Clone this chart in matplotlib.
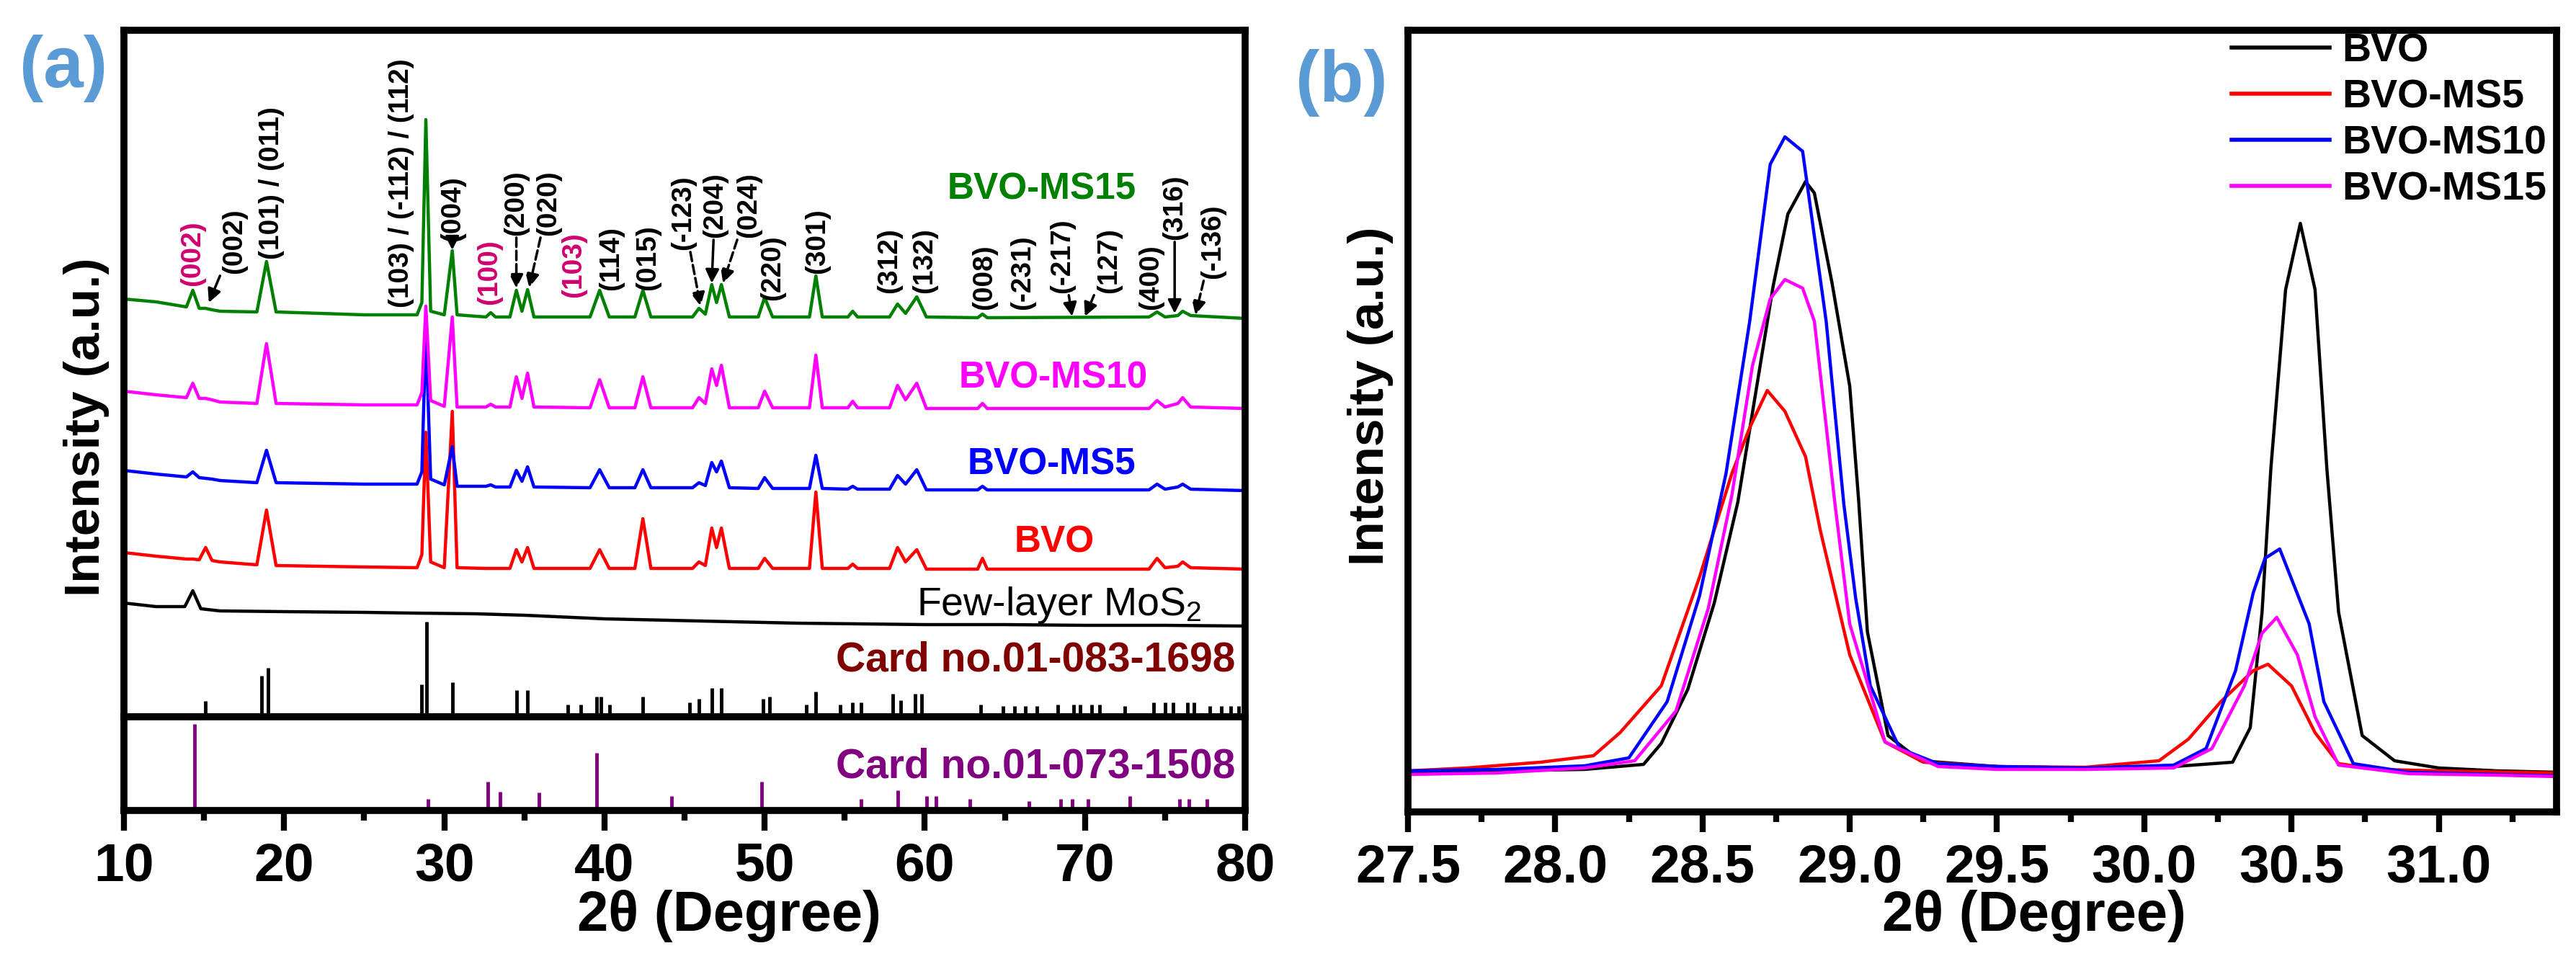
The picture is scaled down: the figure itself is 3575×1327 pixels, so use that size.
import numpy as np
import matplotlib.pyplot as plt
from matplotlib.ticker import MultipleLocator, FormatStrFormatter

plt.rcParams['font.family'] = ['Liberation Sans', 'DejaVu Sans']
plt.rcParams['mathtext.default'] = 'regular'

# ---------------- panel (a) data : stacked XRD patterns ----------------
tt_a = [10, 12, 13.9, 14.3, 14.7, 15.1, 15.5, 16, 18.3, 18.9,
        19.5, 25, 28.3, 28.6, 28.85, 29.15, 30.0, 30.5, 30.8, 32.6,
        32.9, 33.2, 34.1, 34.5, 34.85, 35.2, 35.6, 39.1, 39.7, 40.3,
        41.9, 42.4, 42.9, 45.5, 45.9, 46.3, 46.7, 47.0, 47.3, 47.8,
        49.6, 50.0, 50.5, 52.8, 53.2, 53.6, 55.2, 55.5, 55.8, 57.8,
        58.3, 58.8, 59.5, 60.1, 63.3, 63.6, 63.9, 74.0, 74.5, 75.0,
        75.8, 76.1, 76.6, 80]

i_ms15 = [580, 576, 569, 592, 567, 567, 565, 563, 562, 632,
          562, 558, 558, 575, 829, 563, 558, 647, 558, 555,
          561, 555, 555, 592, 563, 593, 555, 555, 592, 555,
          555, 592, 555, 555, 567, 559, 600, 575, 600, 555,
          555, 582, 555, 555, 612, 555, 555, 563, 555, 555,
          573, 560, 583, 555, 554, 559, 554, 555, 562, 555,
          557, 563, 557, 553]
i_ms10 = [452, 447, 443, 463, 442, 442, 440, 437, 435, 518,
          435, 433, 433, 450, 570, 439, 431, 555, 430, 430,
          434, 430, 430, 472, 442, 477, 430, 429, 468, 429,
          429, 472, 429, 429, 443, 435, 483, 460, 488, 429,
          429, 452, 429, 429, 502, 429, 429, 438, 429, 429,
          460, 440, 463, 428, 428, 435, 428, 428, 439, 430,
          435, 443, 430, 428]
i_ms5 = [342, 337, 333, 340, 332, 331, 330, 328, 325, 370,
         325, 323, 323, 340, 535, 330, 322, 375, 320, 320,
         322, 319, 319, 342, 327, 347, 319, 318, 343, 318,
         318, 343, 318, 318, 325, 321, 353, 340, 355, 318,
         317, 332, 317, 317, 363, 317, 316, 320, 316, 316,
         335, 323, 343, 315, 315, 320, 315, 315, 323, 316,
         319, 323, 316, 314]
i_bvo = [228, 223, 219, 219, 218, 235, 217, 215, 211, 287,
         210, 208, 207, 225, 395, 215, 207, 424, 207, 206,
         206, 206, 206, 232, 215, 235, 206, 206, 232, 206,
         206, 275, 206, 206, 215, 210, 262, 235, 262, 206,
         206, 220, 206, 206, 312, 206, 206, 212, 206, 206,
         235, 215, 232, 205, 205, 220, 205, 205, 220, 207,
         209, 215, 207, 205]

tt_mos2 = [10, 12, 13.8, 14.3, 14.8, 16, 20, 25, 28, 32, 35,
           38, 40, 44, 48, 52, 56, 60, 65, 70, 75, 80]
i_mos2 = [158, 153, 153, 175, 150, 147, 146, 145, 144, 143, 141,
          138, 136, 134, 132, 130, 129, 128, 128, 127, 127, 126]

# reference cards
bvo_card_tt = [15.1, 18.6, 19.0, 28.6, 28.9, 30.5, 34.5, 35.2, 37.7, 38.5,
               39.5, 39.8, 40.3, 42.4, 45.3, 45.9, 46.7, 47.3, 49.9, 50.3,
               52.6, 53.2, 54.7, 55.5, 56.0, 58.0, 58.5, 59.4, 59.8, 63.5,
               64.9, 65.6, 66.3, 67.0, 68.3, 69.3, 69.7, 70.4, 70.9, 72.5,
               74.3, 75.0, 75.5, 76.4, 76.8, 77.8, 78.5, 79.1, 79.6]
bvo_card_int = [22, 57, 68, 45, 132, 48, 37, 37, 17, 17,
                28, 28, 17, 28, 20, 25, 40, 40, 25, 28,
                17, 35, 17, 20, 20, 32, 23, 32, 32, 17,
                15, 15, 15, 15, 17, 17, 17, 17, 17, 15,
                20, 20, 20, 20, 20, 15, 15, 15, 15]
mos2_card_tt = [14.4, 29.0, 32.7, 33.5, 35.9, 39.5, 44.2, 49.8, 56.0, 58.3,
                60.1, 60.7, 62.8, 66.5, 68.5, 69.2, 70.2, 72.8, 75.9, 76.5, 77.6]
mos2_card_int = [120, 16, 40, 26, 25, 80, 20, 40, 16, 28,
                 20, 20, 16, 13, 16, 16, 16, 20, 16, 16, 16]

# miller index labels: text, x of text, y of text bottom, colour, arrow target, dashed
hkl_labels = [
    ('(002)', 14.3, 598, '#d0006f', None, False),
    ('(002)', 16.9, 615, 'k', (15.3, 575), False),
    ('(101) / (011)', 19.2, 635, 'k', None, False),
    ('(103) / (-112) / (112)', 27.3, 568, 'k', None, False),
    ('(004)', 30.5, 660, 'k', (30.5, 648), False),
    ('(100)', 32.8, 572, '#d0006f', None, False),
    ('(200)', 34.5, 668, 'k', (34.5, 595), True),
    ('(020)', 36.5, 668, 'k', (35.3, 596), True),
    ('(103)', 38.1, 582, '#d0006f', None, False),
    ('(114)', 40.4, 592, 'k', None, False),
    ('(015)', 42.7, 592, 'k', None, False),
    ('(-123)', 44.9, 648, 'k', (46.0, 570), True),
    ('(204)', 46.9, 665, 'k', (46.7, 602), False),
    ('(024)', 49.0, 665, 'k', (47.4, 602), True),
    ('(220)', 50.5, 578, 'k', None, False),
    ('(301)', 53.3, 615, 'k', None, False),
    ('(312)', 57.8, 588, 'k', None, False),
    ('(132)', 60.0, 588, 'k', None, False),
    ('(008)', 63.7, 565, 'k', None, False),
    ('(-231)', 66.1, 565, 'k', None, False),
    ('(-217)', 68.6, 588, 'k', (69.2, 556), False),
    ('(127)', 71.5, 588, 'k', (70.0, 556), False),
    ('(400)', 74.1, 565, 'k', None, False),
    ('(316)', 75.6, 662, 'k', (75.6, 560), False),
    ('(-136)', 78.0, 608, 'k', (76.9, 558), True),
]

# ---------------- panel (b) data : zoom 27.5-31.4 ----------------
tt_b_bvo = [27.5, 27.8, 28.1, 28.3, 28.36, 28.45, 28.54, 28.62, 28.68, 28.74,
            28.79, 28.85, 28.88, 28.94, 29.0, 29.03, 29.06, 29.13, 29.24, 29.5,
            29.8, 30.1, 30.3, 30.36, 30.4, 30.43, 30.48, 30.53, 30.58, 30.62,
            30.66, 30.74, 30.85, 31.0, 31.2, 31.4]
ib_bvo = [56, 57, 59, 66, 95, 170, 290, 430, 580, 730,
          830, 875, 859, 734, 591, 434, 250, 106, 71, 63,
          61, 63, 69, 117, 277, 477, 725, 817, 725, 477,
          277, 106, 71, 61, 57, 55]
tt_b_ms5 = [27.5, 27.7, 27.95, 28.13, 28.22, 28.36, 28.49, 28.6, 28.66, 28.72,
            28.78, 28.85, 28.9, 29.0, 29.12, 29.25, 29.5, 29.8, 30.05, 30.15,
            30.26, 30.37, 30.42, 30.5, 30.58, 30.66, 30.8, 31.0, 31.4]
ib_ms5 = [57, 61, 69, 78, 110, 175, 326, 470, 533, 585,
          556, 493, 391, 218, 97, 69, 63, 62, 71, 101,
          153, 196, 205, 175, 110, 67, 59, 57, 54]
tt_b_ms10 = [27.5, 27.8, 28.1, 28.25, 28.38, 28.49, 28.58, 28.66, 28.73, 28.78,
             28.84, 28.92, 28.98, 29.02, 29.07, 29.17, 29.3, 29.5, 29.8, 30.1,
             30.21, 30.31, 30.37, 30.41, 30.46, 30.56, 30.61, 30.71, 30.9, 31.2, 31.4]
ib_ms10 = [57, 59, 64, 75, 153, 300, 470, 680, 899, 937,
           917, 681, 427, 297, 175, 88, 67, 63, 61, 65,
           88, 196, 304, 352, 365, 261, 153, 67, 55, 52, 50]
tt_b_ms15 = [27.5, 27.8, 28.1, 28.27, 28.41, 28.52, 28.6, 28.67, 28.73, 28.78,
             28.84, 28.88, 28.95, 29.0, 29.12, 29.3, 29.5, 29.8, 30.1, 30.23,
             30.34, 30.4, 30.45, 30.52, 30.58, 30.66, 30.9, 31.2, 31.4]
ib_ms15 = [52, 54, 61, 71, 140, 283, 440, 620, 712, 739,
           727, 681, 427, 261, 97, 63, 59, 59, 61, 88,
           175, 248, 270, 218, 132, 65, 53, 51, 49]

W, H = 3575, 1327
fig = plt.figure(figsize=(W / 100, H / 100), dpi=100)

def frac(x0, y0, x1, y1):
    # pixel box -> figure fraction [l, b, w, h]
    return [x0 / W, 1 - y1 / H, (x1 - x0) / W, (y1 - y0) / H]

SPW = 7
TICKFS = 54
ax_top = fig.add_axes(frac(172, 42, 1728, 995))
ax_card = fig.add_axes(frac(172, 995, 1728, 1125), sharex=ax_top)
ax_b = fig.add_axes(frac(1954, 42, 3548, 1127))

for ax in (ax_top, ax_card, ax_b):
    for s in ax.spines.values():
        s.set_linewidth(SPW)

# ---- panel (a)
ax_top.plot(tt_a, i_bvo, color='#ff0000', lw=3.2)
ax_top.plot(tt_a, i_ms5, color='#0000ff', lw=3.2)
ax_top.plot(tt_a, i_ms10, color='#ff00ff', lw=3.2)
ax_top.plot(tt_a, i_ms15, color='#008000', lw=3.2)
ax_top.plot(tt_mos2, i_mos2, color='k', lw=3.2)
ax_top.vlines(bvo_card_tt, 0, bvo_card_int, color='k', lw=3.5)
ax_top.set_ylim(0, 953)
ax_top.set_xlim(10, 80)
ax_top.tick_params(axis='both', which='both', bottom=False, left=False,
                   labelbottom=False, labelleft=False)

for txt, tx, ty, col, target, dashed in hkl_labels:
    if target is None:
        ax_top.text(tx, ty, txt, rotation=90, ha='center', va='bottom',
                    fontsize=28, fontweight='bold', color=col)
    else:
        ax_top.annotate(txt, xy=target, xytext=(tx, ty), rotation=90,
                        ha='center', va='bottom', fontsize=28,
                        fontweight='bold', color=col,
                        arrowprops=dict(arrowstyle='-|>', color='k', lw=2.5,
                                        mutation_scale=28, shrinkA=0, shrinkB=0,
                                        linestyle='--' if dashed else '-'))

ax_top.text(67.3, 732, 'BVO-MS15', color='#008000', fontsize=37,
            fontweight='bold', ha='center', va='center')
ax_top.text(68.0, 470, 'BVO-MS10', color='#ff00ff', fontsize=37,
            fontweight='bold', ha='center', va='center')
ax_top.text(67.9, 350, 'BVO-MS5', color='#0000ff', fontsize=37,
            fontweight='bold', ha='center', va='center')
ax_top.text(68.1, 242, 'BVO', color='#ff0000', fontsize=37,
            fontweight='bold', ha='center', va='center')
ax_top.text(68.4, 155, 'Few-layer MoS$_2$', color='k', fontsize=40,
            ha='center', va='center')
ax_top.text(79.4, 78, 'Card no.01-083-1698', color='#800000', fontsize=41,
            fontweight='bold', ha='right', va='center')

ax_card.vlines(mos2_card_tt, 0, mos2_card_int, color='#800080', lw=3.5)
ax_card.set_ylim(0, 130)
ax_card.text(79.4, 60, 'Card no.01-073-1508', color='#800080', fontsize=41,
             fontweight='bold', ha='right', va='center')
ax_card.set_yticks([])
ax_card.xaxis.set_major_locator(MultipleLocator(10))
ax_card.xaxis.set_minor_locator(MultipleLocator(5))
ax_card.tick_params(axis='x', which='major', direction='out', length=20,
                    width=6, pad=11, labelsize=TICKFS)
ax_card.tick_params(axis='x', which='minor', direction='out', length=10, width=6)
for lab in ax_card.get_xticklabels():
    lab.set_fontweight('bold')

# ---- panel (b)
ax_b.plot(tt_b_bvo, ib_bvo, color='k', lw=3.2, label='BVO')
ax_b.plot(tt_b_ms5, ib_ms5, color='#ff0000', lw=3.2, label='BVO-MS5')
ax_b.plot(tt_b_ms10, ib_ms10, color='#0000ff', lw=3.2, label='BVO-MS10')
ax_b.plot(tt_b_ms15, ib_ms15, color='#ff00ff', lw=3.2, label='BVO-MS15')
ax_b.set_xlim(27.5, 31.4)
ax_b.set_ylim(0, 1085)
ax_b.set_yticks([])
ax_b.xaxis.set_major_locator(MultipleLocator(0.5))
ax_b.xaxis.set_minor_locator(MultipleLocator(0.25))
ax_b.xaxis.set_major_formatter(FormatStrFormatter('%.1f'))
ax_b.tick_params(axis='x', which='major', direction='out', length=20,
                 width=6, pad=11, labelsize=TICKFS)
ax_b.tick_params(axis='x', which='minor', direction='out', length=10, width=6)
for lab in ax_b.get_xticklabels():
    lab.set_fontweight('bold')
leg = ax_b.legend(loc='upper right', bbox_to_anchor=(0.991, 0.997), frameon=False,
                  prop={'size': 40, 'weight': 'bold'}, handlelength=2.45,
                  handletextpad=0.3, labelspacing=0.22, borderpad=0,
                  borderaxespad=0)
for ln in leg.get_lines():
    ln.set_linewidth(4)

# ---- axis titles and panel letters
fig.text(120 / W, 1 - 593 / H, 'Intensity (a.u.)', rotation=90, ha='center',
         va='center', fontsize=50, fontweight='bold')
fig.text(1902 / W, 1 - 550 / H, 'Intensity (a.u.)', rotation=90, ha='center',
         va='center', fontsize=50, fontweight='bold')
fig.text(1012 / W, 1 - 1272 / H, '2θ (Degree)', ha='center', va='center',
         fontsize=56, fontweight='bold')
fig.text(2823 / W, 1 - 1272 / H, '2θ (Degree)', ha='center', va='center',
         fontsize=56, fontweight='bold')
fig.text(88 / W, 1 - 95 / H, '(a)', ha='center', va='center', fontsize=72,
         fontweight='bold', color='#5b9bd5')
fig.text(1862 / W, 1 - 115 / H, '(b)', ha='center', va='center', fontsize=72,
         fontweight='bold', color='#5b9bd5')

fig.savefig('out.png', dpi=100)
